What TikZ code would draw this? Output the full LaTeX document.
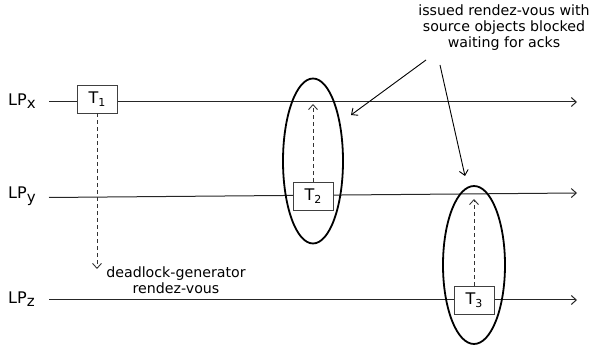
\documentclass[tikz,border=0pt]{standalone}
\usepackage{fontspec}
\setmainfont{DejaVu Sans}
\usetikzlibrary{arrows.meta,shapes.geometric}
\begin{document}
\begin{tikzpicture}[x=1pt,y=-1pt,
  tip/.style={-{Straight Barb[length=5pt,width=9pt]}},
  lpline/.style={draw=black!85,line width=1pt,tip},
  tbox/.style={draw=black!75,fill=white,line width=0.9pt,minimum width=40pt,minimum height=28pt,inner sep=0pt,font=\fontsize{16}{18}\selectfont},
  lplabel/.style={anchor=west,inner sep=0pt,font=\fontsize{16}{18}\selectfont},
  ring/.style={draw,line width=1.8pt,ellipse,inner sep=0pt},
  dasharrow/.style={draw=black!80,line width=0.9pt,dash pattern=on 4pt off 3pt,tip},
  note/.style={align=center,inner sep=0pt,font=\fontsize{14.2}{16}\selectfont},
  pointer/.style={draw,line width=0.9pt,tip}]
\useasboundingbox (0,0) rectangle (592,347);
% labels
\node[lplabel] (lx) at (8,101) {LP\raisebox{-3.5pt}{\fontsize{15}{15}\selectfont x}};
\node[lplabel] (ly) at (8,196) {LP\raisebox{-3.5pt}{\fontsize{15}{15}\selectfont y}};
\node[lplabel] (lz) at (8,299) {LP\raisebox{-3.5pt}{\fontsize{15}{15}\selectfont z}};
% timeline end points
\coordinate (xs) at (49,102);
\coordinate (xe) at (577,102);
\coordinate (ys) at (49,197.5);
\coordinate (ye) at (577,193);
\coordinate (zs) at (49,300);
\coordinate (ze) at (577,300);
\draw[lpline] (xs) -- (xe);
\draw[lpline] (ys) -- (ye);
\draw[lpline] (zs) -- (ze);
% ellipses
\node[ring,minimum width=60pt,minimum height=165pt] (e1) at (313,161) {};
\node[ring,minimum width=62pt,minimum height=158pt] (e2) at (474,265) {};
% boxes
\node[tbox] (t1) at (97,99) {T\raisebox{-3pt}{\fontsize{11}{11}\selectfont 1}};
\node[tbox] (t2) at (313,196) {T\raisebox{-3pt}{\fontsize{11}{11}\selectfont 2}};
\node[tbox] (t3) at (474,300) {T\raisebox{-3pt}{\fontsize{11}{11}\selectfont 3}};
% dashed arrows
\coordinate (d1) at (97,269);
\coordinate (d2) at (313,104);
\coordinate (d3) at (474,199);
\draw[dasharrow] (t1.south) -- (d1);
\draw[dasharrow] (t2.north) -- (d2);
\draw[dasharrow] (t3.north) -- (d3);
% notes
\node[note] (n1) at (176,280) {deadlock-generator\\rendez-vous};
\node[note] (n2) at (504,28) {issued rendez-vous with\\source objects blocked\\waiting for acks};
\coordinate (p1s) at (426,60);
\coordinate (p1e) at (351,115);
\coordinate (p2s) at (440,65);
\coordinate (p2e) at (465,176);
\draw[pointer] (p1s) -- (p1e);
\draw[pointer] (p2s) -- (p2e);
\end{tikzpicture}
\end{document}
